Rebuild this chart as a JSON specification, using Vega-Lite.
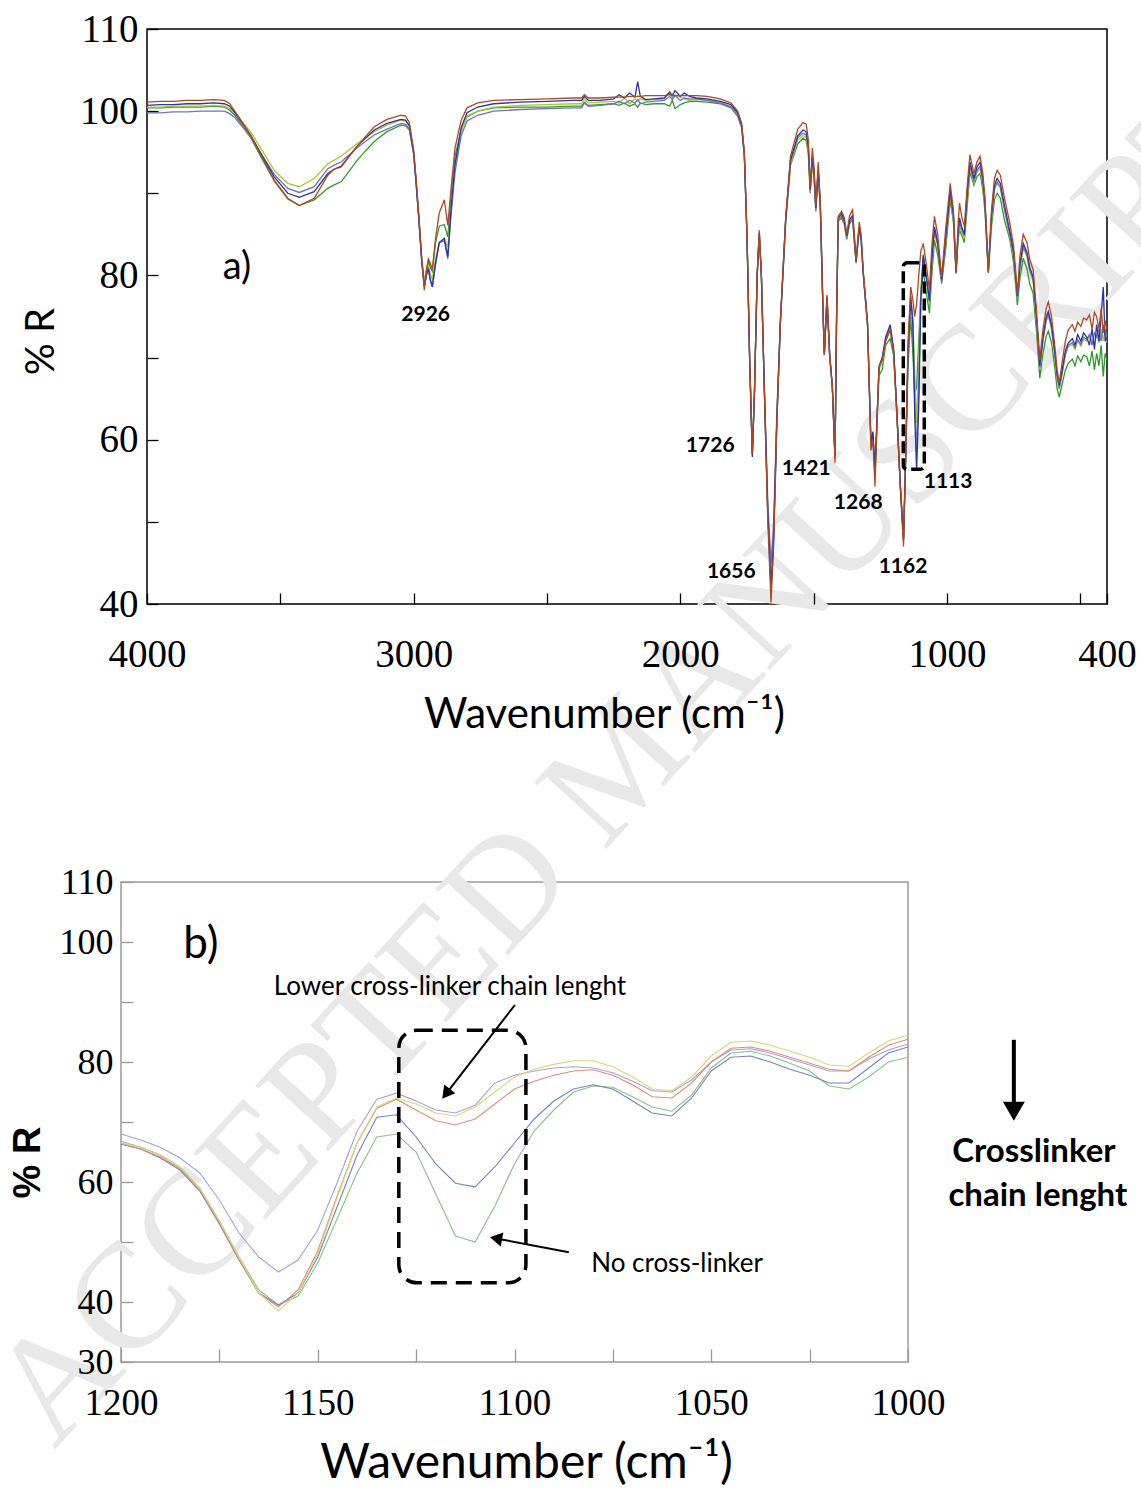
{
  "$schema": "https://vega.github.io/schema/vega-lite/v6.json",
  "background": "white",
  "padding": {"left": -35, "top": 9, "right": -137, "bottom": 0},
  "bounds": "flush",
  "spacing": 853,
  "resolve": {"scale": {"color": "independent"}},
  "config": {"view": {"stroke": null}, "text": {"font": "Lato"}},
  "datasets": {
    "ftirA": [
      {"w":4000,"R":101.1,"DB":100.7,"LV":99.8,"YG":100.5,"GR":100.4},
      {"w":3950,"R":101.2,"DB":100.8,"LV":99.8,"YG":100.5,"GR":100.4},
      {"w":3900,"R":101.2,"DB":100.8,"LV":99.9,"YG":100.6,"GR":100.5},
      {"w":3850,"R":101.3,"DB":100.9,"LV":99.9,"YG":100.6,"GR":100.5},
      {"w":3800,"R":101.3,"DB":100.9,"LV":100.0,"YG":100.6,"GR":100.5},
      {"w":3750,"R":101.4,"DB":101.0,"LV":100.0,"YG":100.7,"GR":100.6},
      {"w":3710,"R":101.3,"DB":100.9,"LV":100.0,"YG":100.6,"GR":100.5},
      {"w":3690,"R":100.9,"DB":100.6,"LV":99.7,"YG":100.3,"GR":100.1},
      {"w":3673,"R":100.1,"DB":99.9,"LV":99.3,"YG":99.9,"GR":99.6},
      {"w":3648,"R":98.9,"DB":98.8,"LV":98.3,"YG":98.9,"GR":98.5},
      {"w":3610,"R":97.0,"DB":97.0,"LV":96.8,"YG":97.4,"GR":96.7},
      {"w":3572,"R":94.6,"DB":94.8,"LV":94.8,"YG":95.4,"GR":94.4},
      {"w":3523,"R":91.6,"DB":92.0,"LV":92.3,"YG":92.8,"GR":91.5},
      {"w":3472,"R":89.4,"DB":90.0,"LV":90.6,"YG":91.2,"GR":89.3},
      {"w":3429,"R":88.5,"DB":89.5,"LV":90.1,"YG":90.8,"GR":88.5},
      {"w":3373,"R":89.4,"DB":90.2,"LV":90.8,"YG":91.8,"GR":89.2},
      {"w":3322,"R":92.2,"DB":92.4,"LV":93.0,"YG":93.6,"GR":90.6},
      {"w":3300,"R":92.9,"DB":92.9,"LV":93.4,"YG":94.0,"GR":91.0},
      {"w":3272,"R":93.2,"DB":93.3,"LV":93.8,"YG":94.5,"GR":91.4},
      {"w":3210,"R":95.8,"DB":95.8,"LV":95.6,"YG":96.1,"GR":94.1},
      {"w":3148,"R":98.1,"DB":97.7,"LV":97.1,"YG":97.5,"GR":96.3},
      {"w":3100,"R":99.0,"DB":98.5,"LV":97.8,"YG":98.3,"GR":97.5},
      {"w":3048,"R":99.5,"DB":99.0,"LV":98.5,"YG":98.9,"GR":98.3},
      {"w":3030,"R":99.4,"DB":98.9,"LV":98.4,"YG":98.8,"GR":98.2},
      {"w":3016,"R":98.6,"DB":98.2,"LV":97.8,"YG":98.1,"GR":97.7},
      {"w":3000,"R":95.3,"DB":95.0,"LV":94.8,"YG":95.0,"GR":94.8},
      {"w":2990,"R":91.5,"DB":91.0,"LV":90.8,"YG":91.0,"GR":91.0},
      {"w":2980,"R":87.1,"DB":86.5,"LV":86.5,"YG":86.8,"GR":86.8},
      {"w":2970,"R":82.0,"DB":81.8,"LV":81.8,"YG":82.0,"GR":82.3},
      {"w":2960,"R":78.2,"DB":78.6,"LV":78.8,"YG":79.0,"GR":79.1},
      {"w":2952,"R":80.5,"DB":80.0,"LV":80.2,"YG":80.5,"GR":80.8},
      {"w":2945,"R":82.0,"DB":80.8,"LV":81.0,"YG":81.2,"GR":81.8},
      {"w":2938,"R":81.5,"DB":79.5,"LV":79.5,"YG":80.2,"GR":81.0},
      {"w":2930,"R":80.7,"DB":78.6,"LV":78.6,"YG":79.5,"GR":80.5},
      {"w":2918,"R":84.5,"DB":81.5,"LV":81.3,"YG":82.0,"GR":84.0},
      {"w":2904,"R":87.6,"DB":84.0,"LV":84.0,"YG":84.0,"GR":86.0},
      {"w":2885,"R":89.2,"DB":84.5,"LV":84.2,"YG":84.5,"GR":86.2},
      {"w":2872,"R":86.1,"DB":82.3,"LV":82.0,"YG":83.5,"GR":84.7},
      {"w":2860,"R":90.5,"DB":88.0,"LV":87.2,"YG":88.0,"GR":89.5},
      {"w":2845,"R":95.5,"DB":93.5,"LV":92.5,"YG":93.5,"GR":94.5},
      {"w":2822,"R":98.9,"DB":98.0,"LV":97.0,"YG":97.5,"GR":97.7},
      {"w":2800,"R":100.4,"DB":99.8,"LV":98.8,"YG":99.4,"GR":99.3},
      {"w":2760,"R":101.0,"DB":100.5,"LV":99.5,"YG":100.0,"GR":100.0},
      {"w":2700,"R":101.3,"DB":100.9,"LV":100.0,"YG":100.5,"GR":100.4},
      {"w":2600,"R":101.4,"DB":101.1,"LV":100.2,"YG":100.7,"GR":100.5},
      {"w":2500,"R":101.5,"DB":101.2,"LV":100.3,"YG":100.8,"GR":100.5},
      {"w":2400,"R":101.6,"DB":101.3,"LV":100.4,"YG":100.9,"GR":100.6},
      {"w":2370,"R":101.6,"DB":101.3,"LV":100.4,"YG":100.9,"GR":100.6},
      {"w":2360,"R":102.0,"DB":101.8,"LV":101.0,"YG":101.5,"GR":101.1},
      {"w":2345,"R":101.6,"DB":101.3,"LV":100.6,"YG":101.0,"GR":100.7},
      {"w":2300,"R":101.6,"DB":101.3,"LV":100.7,"YG":101.1,"GR":100.8},
      {"w":2250,"R":101.7,"DB":101.5,"LV":100.9,"YG":101.2,"GR":100.9},
      {"w":2230,"R":101.7,"DB":102.0,"LV":101.2,"YG":101.0,"GR":100.7},
      {"w":2210,"R":101.7,"DB":101.6,"LV":100.9,"YG":101.6,"GR":101.0},
      {"w":2190,"R":101.8,"DB":102.2,"LV":101.3,"YG":100.9,"GR":100.6},
      {"w":2170,"R":101.8,"DB":101.7,"LV":101.0,"YG":101.5,"GR":100.9},
      {"w":2160,"R":101.8,"DB":103.6,"LV":101.4,"YG":101.2,"GR":100.5},
      {"w":2150,"R":101.8,"DB":101.8,"LV":100.9,"YG":101.5,"GR":101.0},
      {"w":2130,"R":101.9,"DB":101.4,"LV":101.1,"YG":101.3,"GR":100.8},
      {"w":2100,"R":101.9,"DB":101.5,"LV":101.2,"YG":101.4,"GR":100.9},
      {"w":2060,"R":101.9,"DB":101.6,"LV":101.3,"YG":101.5,"GR":100.9},
      {"w":2040,"R":102.0,"DB":102.3,"LV":101.8,"YG":102.4,"GR":100.6},
      {"w":2030,"R":101.9,"DB":101.9,"LV":101.4,"YG":101.6,"GR":101.3},
      {"w":2020,"R":101.9,"DB":102.5,"LV":101.9,"YG":102.0,"GR":100.3},
      {"w":2000,"R":101.9,"DB":101.8,"LV":101.3,"YG":101.7,"GR":100.8},
      {"w":1985,"R":101.9,"DB":102.2,"LV":101.6,"YG":101.5,"GR":101.0},
      {"w":1965,"R":101.9,"DB":101.8,"LV":101.5,"YG":101.3,"GR":101.2},
      {"w":1940,"R":101.9,"DB":101.6,"LV":101.5,"YG":101.4,"GR":101.2},
      {"w":1900,"R":101.8,"DB":101.5,"LV":101.3,"YG":101.3,"GR":101.1},
      {"w":1850,"R":101.5,"DB":101.2,"LV":101.0,"YG":101.0,"GR":100.9},
      {"w":1810,"R":101.0,"DB":100.8,"LV":100.5,"YG":100.6,"GR":100.4},
      {"w":1785,"R":100.0,"DB":99.8,"LV":99.5,"YG":99.7,"GR":99.4},
      {"w":1770,"R":98.5,"DB":98.3,"LV":98.0,"YG":98.2,"GR":98.0},
      {"w":1760,"R":95.0,"DB":94.8,"LV":94.6,"YG":94.8,"GR":94.6},
      {"w":1750,"R":85.0,"DB":84.8,"LV":84.8,"YG":84.8,"GR":84.8},
      {"w":1740,"R":70.0,"DB":69.5,"LV":69.8,"YG":69.8,"GR":69.9},
      {"w":1730,"R":58.4,"DB":57.9,"LV":58.2,"YG":58.3,"GR":58.3},
      {"w":1722,"R":66.0,"DB":65.5,"LV":65.8,"YG":65.8,"GR":65.8},
      {"w":1712,"R":80.0,"DB":79.8,"LV":79.8,"YG":79.9,"GR":79.9},
      {"w":1704,"R":85.5,"DB":85.2,"LV":85.0,"YG":85.2,"GR":85.2},
      {"w":1696,"R":80.0,"DB":80.0,"LV":79.8,"YG":79.8,"GR":79.8},
      {"w":1685,"R":66.0,"DB":66.2,"LV":66.5,"YG":66.2,"GR":66.2},
      {"w":1672,"R":50.0,"DB":51.0,"LV":52.5,"YG":51.5,"GR":51.0},
      {"w":1660,"R":40.2,"DB":42.1,"LV":45.0,"YG":43.5,"GR":42.7},
      {"w":1650,"R":47.0,"DB":48.0,"LV":50.0,"YG":49.0,"GR":48.5},
      {"w":1638,"R":62.0,"DB":62.5,"LV":63.5,"YG":62.5,"GR":62.5},
      {"w":1625,"R":74.2,"DB":74.2,"LV":74.5,"YG":74.0,"GR":74.0},
      {"w":1605,"R":87.0,"DB":86.8,"LV":86.8,"YG":86.5,"GR":86.3},
      {"w":1587,"R":94.5,"DB":94.0,"LV":93.8,"YG":93.6,"GR":93.4},
      {"w":1560,"R":97.8,"DB":97.0,"LV":96.8,"YG":96.5,"GR":96.0},
      {"w":1540,"R":98.6,"DB":97.7,"LV":97.3,"YG":97.0,"GR":96.7},
      {"w":1528,"R":98.4,"DB":97.5,"LV":97.1,"YG":96.8,"GR":96.4},
      {"w":1520,"R":96.5,"DB":95.7,"LV":95.4,"YG":95.1,"GR":94.8},
      {"w":1513,"R":90.8,"DB":90.5,"LV":90.3,"YG":90.2,"GR":90.0},
      {"w":1505,"R":95.5,"DB":94.5,"LV":94.2,"YG":94.0,"GR":93.8},
      {"w":1498,"R":93.0,"DB":92.2,"LV":92.0,"YG":91.8,"GR":91.6},
      {"w":1492,"R":88.4,"DB":88.2,"LV":88.0,"YG":87.9,"GR":87.8},
      {"w":1483,"R":93.8,"DB":93.0,"LV":92.8,"YG":92.6,"GR":92.4},
      {"w":1475,"R":89.0,"DB":88.5,"LV":88.3,"YG":88.2,"GR":88.0},
      {"w":1465,"R":76.0,"DB":75.8,"LV":75.6,"YG":75.5,"GR":75.5},
      {"w":1460,"R":70.5,"DB":70.5,"LV":70.3,"YG":70.3,"GR":70.3},
      {"w":1450,"R":77.6,"DB":77.4,"LV":77.2,"YG":77.2,"GR":77.2},
      {"w":1440,"R":70.5,"DB":70.3,"LV":70.2,"YG":70.2,"GR":70.2},
      {"w":1430,"R":66.5,"DB":66.5,"LV":66.5,"YG":66.5,"GR":66.5},
      {"w":1420,"R":57.2,"DB":57.8,"LV":58.0,"YG":58.0,"GR":58.0},
      {"w":1414,"R":75.0,"DB":75.0,"LV":75.0,"YG":75.0,"GR":75.0},
      {"w":1408,"R":87.2,"DB":87.0,"LV":86.8,"YG":86.8,"GR":86.6},
      {"w":1395,"R":87.8,"DB":87.5,"LV":87.2,"YG":87.2,"GR":87.0},
      {"w":1385,"R":87.0,"DB":86.6,"LV":86.4,"YG":86.4,"GR":86.2},
      {"w":1376,"R":85.1,"DB":84.8,"LV":84.6,"YG":84.6,"GR":84.4},
      {"w":1365,"R":87.3,"DB":86.8,"LV":86.5,"YG":86.5,"GR":86.3},
      {"w":1354,"R":88.0,"DB":87.3,"LV":87.0,"YG":87.0,"GR":86.8},
      {"w":1341,"R":81.9,"DB":81.7,"LV":81.6,"YG":81.6,"GR":81.5},
      {"w":1329,"R":86.5,"DB":86.0,"LV":85.8,"YG":85.8,"GR":85.6},
      {"w":1322,"R":85.0,"DB":84.5,"LV":84.3,"YG":84.3,"GR":84.2},
      {"w":1314,"R":80.5,"DB":80.3,"LV":80.2,"YG":80.2,"GR":80.1},
      {"w":1298,"R":74.2,"DB":74.2,"LV":74.0,"YG":74.0,"GR":73.8},
      {"w":1285,"R":58.7,"DB":59.5,"LV":59.2,"YG":59.0,"GR":59.0},
      {"w":1278,"R":60.0,"DB":61.0,"LV":60.8,"YG":60.5,"GR":60.5},
      {"w":1270,"R":54.3,"DB":56.7,"LV":56.0,"YG":55.5,"GR":55.5},
      {"w":1262,"R":62.5,"DB":63.0,"LV":62.8,"YG":62.5,"GR":62.5},
      {"w":1255,"R":68.9,"DB":68.9,"LV":68.7,"YG":68.5,"GR":67.8},
      {"w":1243,"R":69.7,"DB":70.0,"LV":69.8,"YG":69.5,"GR":68.5},
      {"w":1230,"R":72.0,"DB":72.5,"LV":72.2,"YG":72.0,"GR":71.5},
      {"w":1213,"R":73.4,"DB":74.0,"LV":73.7,"YG":73.5,"GR":72.3},
      {"w":1200,"R":70.5,"DB":71.0,"LV":70.8,"YG":70.6,"GR":70.2},
      {"w":1188,"R":63.0,"DB":63.5,"LV":63.3,"YG":63.2,"GR":63.0},
      {"w":1175,"R":54.0,"DB":54.5,"LV":54.5,"YG":54.3,"GR":54.2},
      {"w":1163,"R":47.0,"DB":47.8,"LV":48.0,"YG":48.0,"GR":47.8},
      {"w":1155,"R":58.0,"DB":58.0,"LV":58.0,"YG":58.0,"GR":57.5},
      {"w":1146,"R":72.0,"DB":71.0,"LV":70.5,"YG":70.5,"GR":69.0},
      {"w":1136,"R":78.6,"DB":77.5,"LV":77.0,"YG":77.0,"GR":75.0},
      {"w":1128,"R":77.0,"DB":74.0,"LV":74.5,"YG":75.0,"GR":70.5},
      {"w":1121,"R":75.0,"DB":63.0,"LV":65.0,"YG":68.0,"GR":65.5},
      {"w":1114,"R":76.5,"DB":56.3,"LV":58.5,"YG":62.0,"GR":66.5},
      {"w":1106,"R":80.0,"DB":64.0,"LV":66.0,"YG":69.0,"GR":72.0},
      {"w":1098,"R":83.0,"DB":77.0,"LV":77.5,"YG":78.5,"GR":78.0},
      {"w":1089,"R":83.9,"DB":82.5,"LV":82.3,"YG":82.3,"GR":80.5},
      {"w":1078,"R":81.5,"DB":80.0,"LV":79.8,"YG":79.8,"GR":78.0},
      {"w":1066,"R":78.2,"DB":77.0,"LV":76.8,"YG":76.6,"GR":75.4},
      {"w":1056,"R":84.0,"DB":82.5,"LV":82.0,"YG":82.0,"GR":80.5},
      {"w":1047,"R":87.2,"DB":85.9,"LV":85.5,"YG":85.3,"GR":84.3},
      {"w":1035,"R":85.0,"DB":84.0,"LV":83.8,"YG":83.6,"GR":82.5},
      {"w":1020,"R":79.8,"DB":79.5,"LV":79.3,"YG":79.3,"GR":79.0},
      {"w":1004,"R":86.0,"DB":85.0,"LV":84.5,"YG":84.3,"GR":83.5},
      {"w":988,"R":91.2,"DB":90.4,"LV":90.0,"YG":89.8,"GR":89.2},
      {"w":976,"R":88.0,"DB":87.5,"LV":87.2,"YG":87.0,"GR":86.5},
      {"w":966,"R":80.5,"DB":80.4,"LV":80.3,"YG":80.3,"GR":80.2},
      {"w":958,"R":86.5,"DB":85.5,"LV":85.0,"YG":84.8,"GR":84.5},
      {"w":953,"R":88.8,"DB":87.0,"LV":86.5,"YG":86.0,"GR":85.5},
      {"w":944,"R":87.0,"DB":85.8,"LV":85.5,"YG":85.2,"GR":84.8},
      {"w":935,"R":86.0,"DB":85.0,"LV":84.8,"YG":84.5,"GR":84.0},
      {"w":924,"R":91.0,"DB":90.2,"LV":89.8,"YG":89.5,"GR":88.5},
      {"w":914,"R":94.7,"DB":93.8,"LV":93.3,"YG":93.0,"GR":92.6},
      {"w":899,"R":92.4,"DB":91.8,"LV":91.5,"YG":91.3,"GR":91.0},
      {"w":888,"R":93.8,"DB":93.2,"LV":92.8,"YG":92.6,"GR":92.0},
      {"w":876,"R":94.5,"DB":93.8,"LV":93.3,"YG":93.0,"GR":92.4},
      {"w":866,"R":92.5,"DB":92.0,"LV":91.5,"YG":91.3,"GR":90.5},
      {"w":858,"R":89.6,"DB":89.2,"LV":88.8,"YG":88.6,"GR":88.0},
      {"w":845,"R":80.5,"DB":80.5,"LV":80.4,"YG":80.4,"GR":80.3},
      {"w":833,"R":88.0,"DB":87.5,"LV":87.2,"YG":87.0,"GR":86.0},
      {"w":822,"R":91.8,"DB":91.0,"LV":90.6,"YG":90.4,"GR":89.2},
      {"w":812,"R":92.8,"DB":91.8,"LV":91.4,"YG":91.2,"GR":90.0},
      {"w":800,"R":92.2,"DB":91.2,"LV":90.8,"YG":90.6,"GR":89.4},
      {"w":785,"R":89.5,"DB":88.6,"LV":88.2,"YG":88.0,"GR":86.8},
      {"w":764,"R":86.3,"DB":85.3,"LV":84.9,"YG":84.7,"GR":84.3},
      {"w":750,"R":83.5,"DB":82.8,"LV":82.5,"YG":82.3,"GR":81.5},
      {"w":736,"R":77.8,"DB":77.5,"LV":77.3,"YG":77.2,"GR":76.4},
      {"w":726,"R":82.5,"DB":81.5,"LV":81.2,"YG":81.0,"GR":79.8},
      {"w":714,"R":85.0,"DB":83.9,"LV":83.5,"YG":83.3,"GR":82.1},
      {"w":700,"R":84.0,"DB":82.8,"LV":82.5,"YG":82.3,"GR":80.8},
      {"w":690,"R":82.0,"DB":81.0,"LV":80.7,"YG":80.5,"GR":79.0},
      {"w":677,"R":80.7,"DB":79.8,"LV":79.5,"YG":79.3,"GR":77.8},
      {"w":665,"R":76.0,"DB":75.3,"LV":75.0,"YG":74.8,"GR":73.5},
      {"w":652,"R":69.7,"DB":69.0,"LV":68.8,"YG":68.6,"GR":67.5},
      {"w":640,"R":73.5,"DB":72.5,"LV":72.2,"YG":72.0,"GR":70.5},
      {"w":628,"R":76.0,"DB":75.0,"LV":74.6,"YG":74.4,"GR":72.6},
      {"w":620,"R":76.8,"DB":75.6,"LV":75.3,"YG":75.1,"GR":73.2},
      {"w":608,"R":75.0,"DB":74.0,"LV":73.6,"YG":73.4,"GR":71.8},
      {"w":596,"R":71.5,"DB":70.8,"LV":70.5,"YG":70.3,"GR":68.8},
      {"w":587,"R":68.5,"DB":68.0,"LV":67.7,"YG":67.5,"GR":66.2},
      {"w":579,"R":66.9,"DB":66.6,"LV":66.3,"YG":66.1,"GR":65.2},
      {"w":568,"R":69.5,"DB":68.5,"LV":68.2,"YG":68.0,"GR":66.8},
      {"w":556,"R":72.0,"DB":70.8,"LV":70.5,"YG":70.3,"GR":68.5},
      {"w":545,"R":73.4,"DB":71.8,"LV":71.5,"YG":71.3,"GR":69.3},
      {"w":530,"R":74.0,"DB":72.3,"LV":71.8,"YG":71.6,"GR":69.8},
      {"w":520,"R":73.2,"DB":71.5,"LV":71.2,"YG":71.0,"GR":69.0},
      {"w":510,"R":74.3,"DB":72.8,"LV":72.2,"YG":72.0,"GR":70.2},
      {"w":498,"R":73.8,"DB":72.0,"LV":71.6,"YG":71.4,"GR":69.5},
      {"w":488,"R":74.8,"DB":73.0,"LV":72.5,"YG":72.2,"GR":70.3},
      {"w":476,"R":74.6,"DB":72.5,"LV":72.2,"YG":72.0,"GR":70.1},
      {"w":466,"R":75.2,"DB":71.5,"LV":72.8,"YG":72.6,"GR":69.0},
      {"w":456,"R":73.5,"DB":73.5,"LV":71.5,"YG":72.0,"GR":70.8},
      {"w":447,"R":75.5,"DB":71.0,"LV":73.0,"YG":71.5,"GR":68.5},
      {"w":439,"R":75.0,"DB":74.0,"LV":72.5,"YG":73.0,"GR":70.5},
      {"w":430,"R":73.5,"DB":72.0,"LV":73.5,"YG":71.8,"GR":69.0},
      {"w":422,"R":76.0,"DB":75.0,"LV":72.0,"YG":73.5,"GR":71.5},
      {"w":414,"R":73.0,"DB":78.6,"LV":74.0,"YG":72.0,"GR":67.7},
      {"w":407,"R":74.5,"DB":72.0,"LV":73.0,"YG":73.5,"GR":70.5},
      {"w":400,"R":73.4,"DB":72.5,"LV":72.0,"YG":71.8,"GR":69.7}
    ],
    "ftirB": [
      {"w":1200,"Y":66.5,"R":66.5,"P":68.0,"B":66.3,"G":66.8},
      {"w":1195,"Y":65.8,"R":65.5,"P":67.0,"B":65.5,"G":65.8},
      {"w":1190,"Y":64.5,"R":64.2,"P":65.8,"B":64.0,"G":64.5},
      {"w":1185,"Y":62.5,"R":62.2,"P":64.0,"B":62.0,"G":62.5},
      {"w":1180,"Y":59.0,"R":58.8,"P":61.5,"B":58.5,"G":59.0},
      {"w":1175,"Y":53.5,"R":53.2,"P":57.0,"B":53.0,"G":53.5},
      {"w":1170,"Y":47.5,"R":47.0,"P":51.5,"B":47.0,"G":47.5},
      {"w":1165,"Y":41.5,"R":41.5,"P":47.5,"B":41.5,"G":42.0},
      {"w":1160,"Y":38.5,"R":39.2,"P":45.0,"B":39.5,"G":39.5},
      {"w":1155,"Y":41.5,"R":42.0,"P":47.0,"B":41.5,"G":41.0},
      {"w":1150,"Y":48.0,"R":48.5,"P":52.0,"B":47.5,"G":46.5},
      {"w":1145,"Y":57.5,"R":57.8,"P":60.0,"B":56.0,"G":54.0},
      {"w":1140,"Y":66.5,"R":66.5,"P":68.5,"B":64.5,"G":61.5},
      {"w":1135,"Y":72.5,"R":72.3,"P":73.8,"B":70.8,"G":67.5},
      {"w":1130,"Y":74.0,"R":73.8,"P":74.8,"B":71.2,"G":68.0},
      {"w":1125,"Y":73.0,"R":72.0,"P":73.5,"B":67.5,"G":65.0},
      {"w":1120,"Y":71.5,"R":70.2,"P":72.0,"B":63.0,"G":58.0},
      {"w":1115,"Y":71.0,"R":69.5,"P":71.5,"B":59.8,"G":51.0},
      {"w":1110,"Y":72.5,"R":70.5,"P":72.8,"B":59.2,"G":50.0},
      {"w":1105,"Y":75.0,"R":73.0,"P":76.5,"B":62.5,"G":56.0},
      {"w":1100,"Y":77.5,"R":75.5,"P":77.8,"B":66.5,"G":63.0},
      {"w":1095,"Y":78.8,"R":76.8,"P":78.5,"B":70.5,"G":68.5},
      {"w":1090,"Y":79.6,"R":77.8,"P":79.0,"B":73.5,"G":72.0},
      {"w":1085,"Y":80.2,"R":78.5,"P":79.2,"B":75.5,"G":75.0},
      {"w":1080,"Y":80.2,"R":78.7,"P":79.0,"B":76.2,"G":76.0},
      {"w":1075,"Y":79.2,"R":77.8,"P":78.2,"B":75.5,"G":75.8},
      {"w":1070,"Y":77.5,"R":76.2,"P":76.8,"B":73.5,"G":74.2},
      {"w":1065,"Y":75.5,"R":74.2,"P":75.2,"B":71.5,"G":72.5},
      {"w":1060,"Y":75.2,"R":74.0,"P":75.0,"B":71.0,"G":71.8},
      {"w":1055,"Y":77.5,"R":76.5,"P":77.0,"B":74.0,"G":74.5},
      {"w":1050,"Y":81.0,"R":80.0,"P":80.0,"B":78.5,"G":79.0},
      {"w":1045,"Y":83.3,"R":82.3,"P":82.0,"B":80.8,"G":81.5},
      {"w":1040,"Y":83.5,"R":82.5,"P":82.2,"B":81.0,"G":81.8},
      {"w":1035,"Y":82.8,"R":81.8,"P":81.5,"B":80.0,"G":81.0},
      {"w":1030,"Y":81.8,"R":80.8,"P":80.5,"B":78.8,"G":79.8},
      {"w":1025,"Y":80.8,"R":79.8,"P":79.5,"B":77.8,"G":78.5},
      {"w":1020,"Y":79.5,"R":78.8,"P":78.5,"B":76.5,"G":76.0},
      {"w":1015,"Y":79.3,"R":78.5,"P":78.5,"B":76.5,"G":75.5},
      {"w":1010,"Y":81.5,"R":80.8,"P":80.5,"B":79.0,"G":77.5},
      {"w":1005,"Y":83.5,"R":82.8,"P":82.0,"B":81.5,"G":80.0},
      {"w":1000,"Y":84.5,"R":83.8,"P":83.0,"B":82.5,"G":80.8}
    ]
  },
  "vconcat": [
    {
      "spacing": 0,
      "bounds": "flush",
      "hconcat": [
        {"width": 26, "height": 575, "data": {"values": [{"t": ""}]}, "mark": {"type": "text"}, "encoding": {"text": {"field": "t"}}},
        {
          "width": 960,
          "height": 575,
          "view": {"stroke": "black", "strokeWidth": 1.5},
          "layer": [
            {
              "data": {"values": [{"t": "MANUSCRIPT"}]},
              "mark": {"type": "text", "font": "Liberation Serif", "fontSize": 150, "angle": -47.5, "color": "#e8e8e8", "align": "center", "baseline": "middle"},
              "encoding": {
                "text": {"field": "t"},
                "x": {"datum": 1187.5, "type": "quantitative"},
                "y": {"datum": 56.9, "type": "quantitative"}
              }
            },
            {
              "data": {"name": "ftirA"},
              "transform": [{"fold": ["GR", "YG", "LV", "DB", "R"], "as": ["s", "r"]}],
              "mark": {"type": "line", "strokeWidth": 1.3, "clip": true},
              "encoding": {
                "x": {
                  "field": "w", "type": "quantitative", "title": "Wavenumber (cm⁻¹)",
                  "scale": {"domain": [400, 4000], "reverse": true, "nice": false, "zero": false},
                  "axis": {
                    "values": [4000, 3500, 3000, 2500, 2000, 1500, 1000, 500, 400],
                    "labelExpr": "(datum.value==3500||datum.value==2500||datum.value==1500||datum.value==500)?'':datum.label",
                    "format": "d", "domain": false, "grid": false, "zindex": 1,
                    "tickSize": -11, "tickColor": "black", "tickWidth": 1.3,
                    "labelPadding": 42, "labelFont": "Liberation Sans Narrow", "labelFontSize": 39, "labelColor": "black",
                    "labelOverlap": false, "labelFlush": false,
                    "titleFont": "Lato", "titleFontSize": 42, "titleFontWeight": "normal", "titleColor": "black", "titlePadding": 20, "titleX": 457
                  }
                },
                "y": {
                  "field": "r", "type": "quantitative", "title": "% R",
                  "scale": {"domain": [40, 110], "nice": false, "zero": false},
                  "axis": {
                    "values": [40, 50, 60, 70, 80, 90, 100, 110],
                    "labelExpr": "(datum.value==50||datum.value==70||datum.value==90)?'':datum.label",
                    "domain": false, "grid": false, "zindex": 1,
                    "tickSize": -11, "tickColor": "black", "tickWidth": 1.3,
                    "labelPadding": 20, "labelFont": "Liberation Sans Narrow", "labelFontSize": 39, "labelColor": "black",
                    "labelOverlap": false, "labelFlush": false,
                    "titleFont": "Lato", "titleFontSize": 40, "titleFontWeight": "normal", "titleColor": "black", "titlePadding": 18, "titleY": 312
                  }
                },
                "color": {
                  "field": "s", "type": "nominal", "legend": null,
                  "scale": {"domain": ["GR", "YG", "LV", "DB", "R"], "range": ["#2e9a2e", "#a9cc1f", "#6f6fcc", "#2b34a8", "#b4461e"]}
                }
              }
            },
            {
              "data": {"values": [
                {"label": "2926", "w": 2955, "r": 75.2},
                {"label": "1726", "w": 1888, "r": 59.2},
                {"label": "1656", "w": 1809, "r": 43.9},
                {"label": "1421", "w": 1528, "r": 56.4},
                {"label": "1268", "w": 1333, "r": 52.3},
                {"label": "1162", "w": 1165, "r": 44.5},
                {"label": "1113", "w": 996, "r": 54.9}
              ]},
              "mark": {"type": "text", "font": "Lato", "fontWeight": "bold", "fontSize": 21, "color": "black"},
              "encoding": {
                "x": {"field": "w", "type": "quantitative", "title": "Wavenumber (cm⁻¹)"},
                "y": {"field": "r", "type": "quantitative", "title": "% R"},
                "text": {"field": "label"}
              }
            },
            {
              "data": {"values": [{"t": "a)"}]},
              "mark": {"type": "text", "font": "Lato", "fontSize": 38, "color": "black"},
              "encoding": {
                "text": {"field": "t"},
                "x": {"datum": 3663, "type": "quantitative"},
                "y": {"datum": 80.9, "type": "quantitative"}
              }
            },
            {
              "data": {"values": [{"t": "box"}]},
              "mark": {"type": "rect", "fillOpacity": 0, "stroke": "black", "strokeWidth": 3.5, "strokeDash": [12, 5], "cornerRadius": 4},
              "encoding": {
                "x": {"datum": 1163.9, "type": "quantitative"},
                "x2": {"datum": 1085.1},
                "y": {"datum": 81.55, "type": "quantitative"},
                "y2": {"datum": 56.4}
              }
            }
          ]
        }
      ]
    },
    {
      "width": 787,
      "height": 480,
      "view": {"stroke": "#9a9a9a", "strokeWidth": 1.5},
      "layer": [
        {
          "data": {"values": [{"t": "ACCEPTED"}]},
          "mark": {"type": "text", "font": "Liberation Serif", "fontSize": 150, "angle": -47.5, "color": "#e8e8e8", "align": "center", "baseline": "middle"},
          "encoding": {
            "text": {"field": "t"},
            "x": {"datum": 1158.8, "type": "quantitative"},
            "y": {"datum": 68.0, "type": "quantitative"}
          }
        },
        {
          "data": {"name": "ftirB"},
          "transform": [{"fold": ["G", "B", "P", "R", "Y"], "as": ["s", "r"]}],
          "mark": {"type": "line", "strokeWidth": 1.1, "clip": true},
          "encoding": {
            "x": {
              "field": "w", "type": "quantitative", "title": "Wavenumber (cm⁻¹)",
              "scale": {"domain": [1000, 1200], "reverse": true, "nice": false, "zero": false},
              "axis": {
                "values": [1200, 1175, 1150, 1125, 1100, 1075, 1050, 1025, 1000],
                "labelExpr": "(datum.value==1175||datum.value==1125||datum.value==1075||datum.value==1025)?'':datum.label",
                "format": "d", "domain": false, "grid": false, "zindex": 1,
                "tickSize": -13, "tickColor": "#9a9a9a", "tickWidth": 1.3,
                "labelPadding": 36, "labelFont": "Liberation Sans Narrow", "labelFontSize": 37, "labelColor": "black",
                "labelOverlap": false, "labelFlush": false,
                "titleFont": "Lato", "titleFontSize": 48, "titleFontWeight": "normal", "titleColor": "black", "titlePadding": 18, "titleX": 405
              }
            },
            "y": {
              "field": "r", "type": "quantitative", "title": "% R",
              "scale": {"domain": [30, 110], "nice": false, "zero": false},
              "axis": {
                "values": [30, 40, 50, 60, 70, 80, 90, 100, 110],
                "labelExpr": "(datum.value==50||datum.value==70||datum.value==90)?'':datum.label",
                "domain": false, "grid": false, "zindex": 1,
                "tickSize": -12, "tickColor": "#9a9a9a", "tickWidth": 1.3,
                "labelPadding": 20, "labelFont": "Liberation Sans Narrow", "labelFontSize": 36, "labelColor": "black",
                "labelOverlap": false, "labelFlush": false,
                "titleFont": "Liberation Sans", "titleFontSize": 38, "titleFontWeight": "bold", "titleColor": "black", "titlePadding": 12, "titleY": 280
              }
            },
            "color": {
              "field": "s", "type": "nominal", "legend": null,
              "scale": {"domain": ["G", "B", "P", "R", "Y"], "range": ["#86c286", "#7482c8", "#a2a2e2", "#e08c7a", "#d8d870"]}
            }
          }
        },
        {
          "data": {"values": [{"t": "b)"}]},
          "mark": {"type": "text", "font": "Lato", "fontSize": 44, "color": "black"},
          "encoding": {
            "text": {"field": "t"},
            "x": {"datum": 1179.7, "type": "quantitative"},
            "y": {"datum": 99.5, "type": "quantitative"}
          }
        },
        {
          "data": {"values": [{"t": "Lower cross-linker chain lenght"}]},
          "mark": {"type": "text", "font": "Lato", "fontSize": 26, "color": "black"},
          "encoding": {
            "text": {"field": "t"},
            "x": {"datum": 1116.4, "type": "quantitative"},
            "y": {"datum": 92.5, "type": "quantitative"}
          }
        },
        {
          "data": {"values": [{"t": "No cross-linker"}]},
          "mark": {"type": "text", "font": "Lato", "fontSize": 26, "color": "black"},
          "encoding": {
            "text": {"field": "t"},
            "x": {"datum": 1058.7, "type": "quantitative"},
            "y": {"datum": 46.3, "type": "quantitative"}
          }
        },
        {
          "data": {"values": [{"t": "box"}]},
          "mark": {"type": "rect", "fillOpacity": 0, "stroke": "black", "strokeWidth": 3.5, "strokeDash": [16, 9], "cornerRadius": 18},
          "encoding": {
            "x": {"datum": 1129.4, "type": "quantitative"},
            "x2": {"datum": 1097.1},
            "y": {"datum": 85.3, "type": "quantitative"},
            "y2": {"datum": 43.2}
          }
        },
        {
          "data": {"values": [{"t": "arrow"}]},
          "mark": {"type": "rule", "color": "black", "strokeWidth": 2},
          "encoding": {
            "x": {"datum": 1099.9, "type": "quantitative"},
            "y": {"datum": 89.5, "type": "quantitative"},
            "x2": {"datum": 1117.4},
            "y2": {"datum": 74.7}
          }
        },
        {
          "data": {"values": [{"t": "arrow"}]},
          "mark": {"type": "rule", "color": "black", "strokeWidth": 2},
          "encoding": {
            "x": {"datum": 1086.2, "type": "quantitative"},
            "y": {"datum": 48.3, "type": "quantitative"},
            "x2": {"datum": 1104.7},
            "y2": {"datum": 50.6}
          }
        },
        {
          "data": {"values": [{"t": "arrow"}]},
          "mark": {"type": "rule", "color": "black", "strokeWidth": 4},
          "encoding": {
            "x": {"datum": 973.1, "type": "quantitative"},
            "y": {"datum": 83.7, "type": "quantitative"},
            "y2": {"datum": 72.5}
          }
        },
        {
          "data": {"values": [{"t": "head"}]},
          "mark": {"type": "point", "shape": "triangle-up", "filled": true, "color": "black", "opacity": 1, "size": 200, "angle": 217.9},
          "encoding": {
            "x": {"datum": 1117.4, "type": "quantitative"},
            "y": {"datum": 74.7, "type": "quantitative"}
          }
        },
        {
          "data": {"values": [{"t": "head"}]},
          "mark": {"type": "point", "shape": "triangle-up", "filled": true, "color": "black", "opacity": 1, "size": 200, "angle": 280.5},
          "encoding": {
            "x": {"datum": 1104.7, "type": "quantitative"},
            "y": {"datum": 50.6, "type": "quantitative"}
          }
        },
        {
          "data": {"values": [{"t": "head"}]},
          "mark": {"type": "point", "shape": "triangle-down", "filled": true, "color": "black", "opacity": 1, "size": 480},
          "encoding": {
            "x": {"datum": 973.1, "type": "quantitative"},
            "y": {"datum": 71.8, "type": "quantitative"}
          }
        },
        {
          "data": {"values": [{"t": "Crosslinker"}]},
          "mark": {"type": "text", "font": "Lato", "fontWeight": "bold", "fontSize": 33, "color": "black"},
          "encoding": {
            "text": {"field": "t"},
            "x": {"datum": 968, "type": "quantitative"},
            "y": {"datum": 65.0, "type": "quantitative"}
          }
        },
        {
          "data": {"values": [{"t": "chain lenght"}]},
          "mark": {"type": "text", "font": "Lato", "fontWeight": "bold", "fontSize": 33, "color": "black"},
          "encoding": {
            "text": {"field": "t"},
            "x": {"datum": 967, "type": "quantitative"},
            "y": {"datum": 57.7, "type": "quantitative"}
          }
        }
      ]
    }
  ]
}
